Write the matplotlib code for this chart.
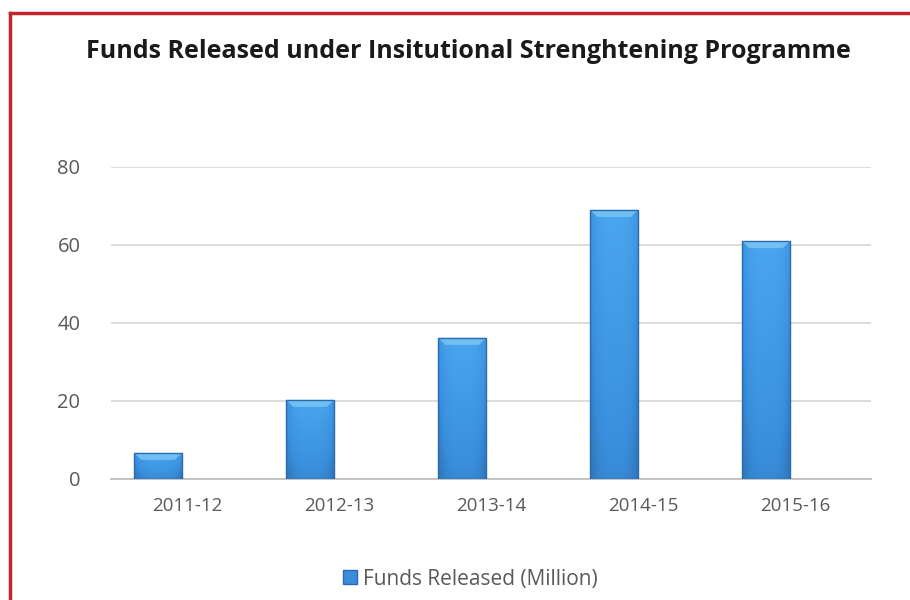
import matplotlib
matplotlib.use('Agg')
import matplotlib.pyplot as plt
from matplotlib.lines import Line2D
from matplotlib.colors import LinearSegmentedColormap
import numpy as np

# Data
years = ['2011-12', '2012-13', '2013-14', '2014-15', '2015-16']
funds = [6.7, 20.3, 36.2, 69.0, 61.0]
y_ticks = [0, 20, 40, 60, 80]

plt.rcParams['font.family'] = ['Open Sans', 'DejaVu Sans']

fig = plt.figure(figsize=(9.1, 6), dpi=100)
ax = fig.add_axes([0.122, 0.2017, 0.835, 0.52])

x = np.arange(len(years))
bar_color = '#3b8ddb'
bars = ax.bar(x - 0.19, funds, width=0.316, color='none', edgecolor='#2a6aae',
              linewidth=1.0, zorder=4)

# shaded fill for each bar: darker at the sides and bottom, lighter near the top
cmap = LinearSegmentedColormap.from_list('bar', ['#25609f', '#3a8fdc', '#4aa6ef'])
gx = np.linspace(-1, 1, 60)
gy = np.linspace(0, 1, 120)
side = 1 - 0.35 * np.abs(gx) ** 3
shade = np.outer(0.55 + 0.45 * gy, side)
for b in bars:
    x0, w, h = b.get_x(), b.get_width(), b.get_height()
    im = ax.imshow(shade, cmap=cmap, vmin=0.2, vmax=1.0, origin='lower', aspect='auto',
                   extent=[x0, x0 + w, 0, h], zorder=3, interpolation='bilinear')
    im.set_clip_path(b)
    # light bevel along the top
    bevel_h = min(h * 0.5, 1.8)
    ax.fill([x0, x0 + w, x0 + w * 0.85, x0 + w * 0.15],
            [h, h, h - bevel_h, h - bevel_h], color='#7cc8f6', alpha=0.8,
            linewidth=0, zorder=3.5)

ax.set_xlim(-0.5, len(years) - 0.5)
ax.set_ylim(0, 80)
ax.set_yticks(y_ticks)
ax.set_xticks(x)
ax.set_xticklabels(years)
ax.tick_params(axis='y', length=0, pad=22, labelsize=14.5, labelcolor='#595959')
ax.tick_params(axis='x', length=0, pad=13, labelsize=13.5, labelcolor='#595959')
ax.grid(axis='y', color='#d9d9d9', linewidth=1.3, zorder=0)
for s in ['top', 'right', 'left']:
    ax.spines[s].set_visible(False)
ax.spines['bottom'].set_color('#bfbfbf')
ax.spines['bottom'].set_linewidth(1.3)

fig.text(0.515, 0.915, 'Funds Released under Insitutional Strenghtening Programme',
         ha='center', va='center', fontsize=18, fontweight='bold', color='#1a1a1a')

handle = Line2D([], [], marker='s', linestyle='none', markersize=10,
                markerfacecolor=bar_color, markeredgecolor='#2a6aae')
fig.legend([handle], ['Funds Released (Million)'], loc='center', bbox_to_anchor=(0.516, 0.035),
           frameon=False, fontsize=15, labelcolor='#595959', handlelength=0.8,
           handletextpad=0.2)

# red frame on top and left
fig.add_artist(Line2D([0.0105, 0.0105], [0.0, 0.979], color='#c0272d', linewidth=2.5))
fig.add_artist(Line2D([0.0105, 1.0], [0.979, 0.979], color='#c0272d', linewidth=2.5))

fig.savefig('out.png', dpi=100)
